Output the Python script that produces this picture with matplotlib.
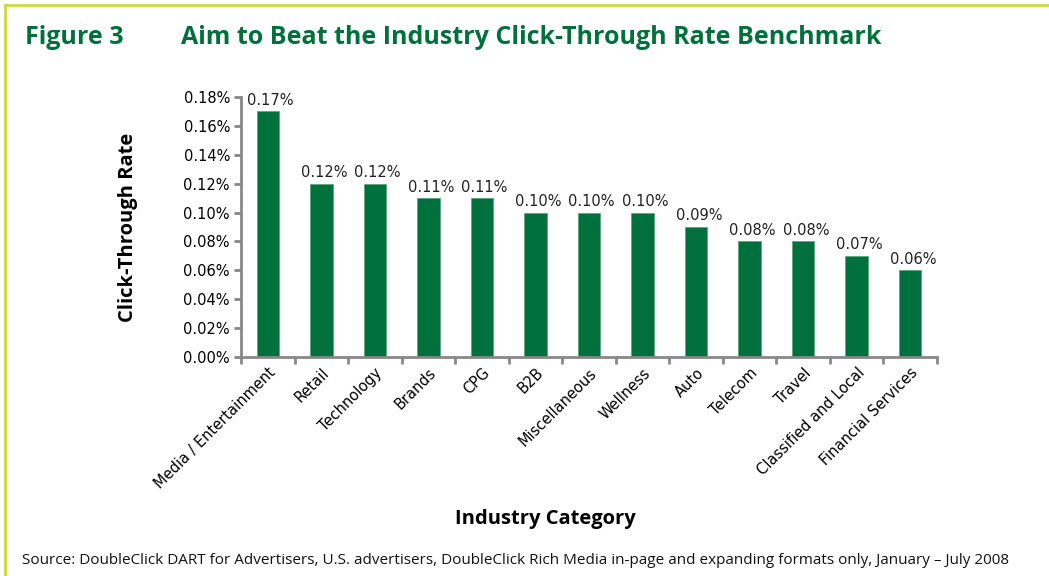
import matplotlib.pyplot as plt
from matplotlib.ticker import FuncFormatter
from matplotlib.patches import Rectangle

categories = ['Media / Entertainment', 'Retail', 'Technology', 'Brands', 'CPG', 'B2B',
              'Miscellaneous', 'Wellness', 'Auto', 'Telecom', 'Travel',
              'Classified and Local', 'Financial Services']
ctr = [0.17, 0.12, 0.12, 0.11, 0.11, 0.10, 0.10, 0.10, 0.09, 0.08, 0.08, 0.07, 0.06]
yticks = [0.00, 0.02, 0.04, 0.06, 0.08, 0.10, 0.12, 0.14, 0.16, 0.18]

green = '#00703C'
gray = '#888888'

fig = plt.figure(figsize=(10.49, 5.76), dpi=100)
ax = fig.add_axes([241 / 1049, 1 - 357 / 576, 696 / 1049, 260 / 576])

x = list(range(len(categories)))
bars = ax.bar(x, ctr, width=0.42, color=green, edgecolor='#5aa77f', linewidth=0.6)
for xi, v in zip(x, ctr):
    ax.text(xi + 0.05, v + 0.0025, '{:.2f}%'.format(v), ha='center', va='bottom',
            fontsize=10.5, family='DejaVu Sans', color='#222222')

ax.set_xlim(-0.5, len(categories) - 0.5)
ax.set_ylim(0, 0.18)
ax.set_yticks(yticks)
ax.yaxis.set_major_formatter(FuncFormatter(lambda v, p: '{:.2f}%'.format(v)))
ax.set_xticks([i - 0.5 for i in range(len(categories) + 1)])
ax.set_xticklabels([])
ax.set_xticks(x, minor=True)
ax.set_xticklabels(categories, minor=True, rotation=45, ha='right',
                   rotation_mode='anchor', fontsize=10.5, family='DejaVu Sans')
ax.tick_params(axis='x', which='minor', length=0, pad=6)
ax.tick_params(axis='x', which='major', length=5, width=2, color=gray)
ax.tick_params(axis='y', length=5, width=2, color=gray, labelsize=10.5, pad=3)
for lab in ax.get_yticklabels():
    lab.set_family('DejaVu Sans')

for s in ['top', 'right']:
    ax.spines[s].set_visible(False)
for s in ['left', 'bottom']:
    ax.spines[s].set_color(gray)
    ax.spines[s].set_linewidth(2)

fig.text(128 / 1049, 1 - 227 / 576, 'Click-Through Rate', rotation=90, ha='center', va='center',
         fontsize=14.5, fontweight='bold', family='Open Sans')
fig.text(545 / 1049, 1 - 519 / 576, 'Industry Category', ha='center', va='center',
         fontsize=14.5, fontweight='bold', family='Open Sans')
fig.text(25 / 1049, 1 - 38 / 576, 'Figure 3', ha='left', va='center',
         fontsize=18, fontweight='bold', family='Open Sans', color=green)
fig.text(181 / 1049, 1 - 38 / 576, 'Aim to Beat the Industry Click-Through Rate Benchmark',
         ha='left', va='center', fontsize=18, fontweight='bold', family='Open Sans', color=green)
fig.text(22 / 1049, 1 - 561 / 576,
         'Source: DoubleClick DART for Advertisers, U.S. advertisers, DoubleClick Rich Media '
         'in-page and expanding formats only, January \u2013 July 2008',
         ha='left', va='center', fontsize=11, family='Open Sans', color='#111111')

# page frame
fig.add_artist(Rectangle((5 / 1049, -0.1), 1.2, 1 - 5 / 576 + 0.1, transform=fig.transFigure,
                         fill=False, edgecolor='#C8DC3C', linewidth=2))

fig.savefig('out.png', dpi=100)
